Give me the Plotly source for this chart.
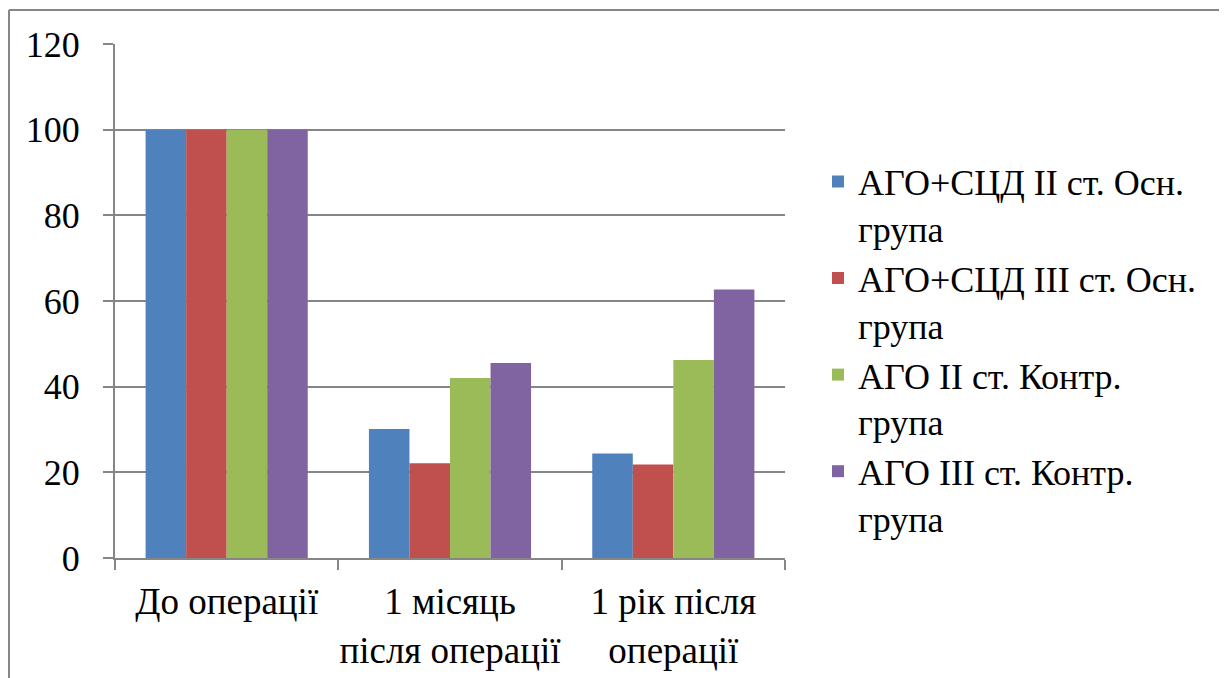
import plotly.graph_objects as go

categories = ["До операції", "1 місяць<br>після операції", "1 рік після<br>операції"]
series_names = [
    "АГО+СЦД II ст. Осн.<br>група",
    "АГО+СЦД III ст. Осн.<br>група",
    "АГО II ст. Контр.<br>група",
    "АГО III ст. Контр.<br>група",
]
ago_scd_2 = [100, 30.1, 24.4]
ago_scd_3 = [100, 22.1, 21.8]
ago_2 = [100, 42.0, 46.2]
ago_3 = [100, 45.5, 62.7]
colors = ["#4f81bd", "#c0504d", "#9bbb59", "#8064a2"]

fig = go.Figure()
for name, vals, c in zip(series_names, [ago_scd_2, ago_scd_3, ago_2, ago_3], colors):
    fig.add_trace(go.Bar(x=categories, y=vals, name=name, marker=dict(color=c, line=dict(width=0))))

font = "Liberation Serif, Times New Roman, serif"
# page body has an 8px margin, so the figure is 8px smaller than the window
W, H = 1219, 670
L, T, B = 107, 36, 120
pw, ph = 670, 514
R = W - L - pw

fig.update_layout(
    width=W, height=H,
    margin=dict(l=L, r=R, t=T, b=B, autoexpand=False),
    paper_bgcolor="white", plot_bgcolor="white",
    font=dict(family=font, size=37, color="black"),
    barmode="group", bargap=0.274, bargroupgap=0,
    showlegend=True,
    legend=dict(x=(810 - L) / pw, y=(H - B - 342) / ph, xanchor="left", yanchor="middle",
                valign="top", font=dict(family=font, size=36), bgcolor="rgba(0,0,0,0)"),
    xaxis=dict(showline=True, linecolor="#868686", linewidth=2, ticks="outside",
               tickson="boundaries", ticklen=10, tickcolor="#868686", tickwidth=2,
               tickfont=dict(size=37), tickangle=0, automargin=False,
               showgrid=False, ticklabelstandoff=10),
    yaxis=dict(range=[0, 120], dtick=20, showline=True, linecolor="#868686", linewidth=2,
               ticks="outside", ticklen=10, tickcolor="#868686", tickwidth=2,
               showgrid=True, gridcolor="#868686", gridwidth=2, zeroline=False,
               automargin=False, tickfont=dict(size=36), ticklabelstandoff=16),
    shapes=[
        dict(type="line", xref="paper", yref="paper", x0=(1 - L) / pw, x1=(W - L) / pw,
             y0=(H - B - 2) / ph, y1=(H - B - 2) / ph, line=dict(color="#868686", width=2)),
        dict(type="line", xref="paper", yref="paper", x0=(1 - L) / pw, x1=(1 - L) / pw,
             y0=(H - B - 2) / ph, y1=-B / ph, line=dict(color="#868686", width=2)),
    ],
)

fig.write_html("out.html")
